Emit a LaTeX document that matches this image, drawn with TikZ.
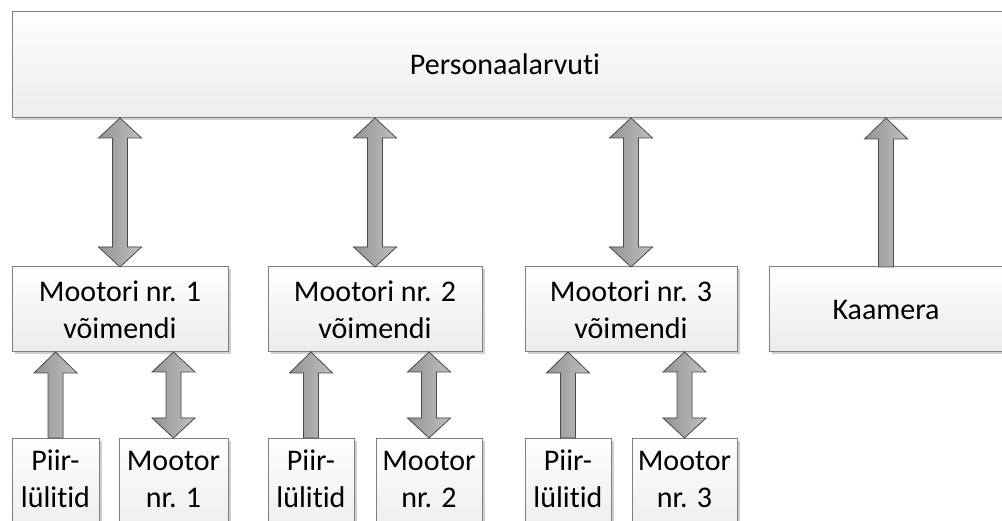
\documentclass[tikz,border=0pt]{standalone}
\usepackage{fontspec}
\setmainfont{Carlito}[RawFeature={-liga}]
\usetikzlibrary{calc,shadows}
\definecolor{boxborder}{HTML}{7F7F7F}
\definecolor{boxtop}{HTML}{FEFEFE}
\definecolor{boxbot}{HTML}{ECECEC}
\definecolor{boxshadow}{HTML}{CFCFCF}
\definecolor{arrL}{HTML}{939393}
\definecolor{arrR}{HTML}{C0C0C0}
\definecolor{arrline}{HTML}{4A4A4A}
\definecolor{arrsh}{HTML}{808080}
\newcommand\DArrowPath[3]{% style, top tip, bottom tip
  \path[#1] let \p1=(#2), \p2=(#3) in
    (\x1,\y1) -- (\x1+21.5pt,\y1-20pt) -- (\x1+7.5pt,\y1-20pt) -- (\x1+7.5pt,\y2+20pt)
    -- (\x1+21.5pt,\y2+20pt) -- (\x1,\y2) -- (\x1-21.5pt,\y2+20pt) -- (\x1-7.5pt,\y2+20pt)
    -- (\x1-7.5pt,\y1-20pt) -- (\x1-21.5pt,\y1-20pt) -- cycle;}
\newcommand\UArrowPath[3]{% style, top tip, shaft bottom
  \path[#1] let \p1=(#2), \p2=(#3) in
    (\x1,\y1) -- (\x1+21.5pt,\y1-21pt) -- (\x1+7.5pt,\y1-21pt) -- (\x1+7.5pt,\y2)
    -- (\x1-7.5pt,\y2) -- (\x1-7.5pt,\y1-21pt) -- (\x1-21.5pt,\y1-21pt) -- cycle;}
\newcommand\DArrow[2]{\DArrowPath{arrshadow}{#1}{#2}\DArrowPath{arrbody}{#1}{#2}}
\newcommand\UArrow[2]{\UArrowPath{arrshadow}{#1}{#2}\UArrowPath{arrbody}{#1}{#2}}
\tikzset{
  box/.style={draw=boxborder, line width=1pt, top color=boxtop, bottom color=boxbot,
    inner sep=0pt, outer sep=0pt, anchor=north west,
    general shadow={fill=boxshadow, shadow xshift=2.5pt, shadow yshift=-2.5pt}},
  txt/.style={align=center, inner sep=0pt, font=\fontsize{30}{37}\selectfont},
  arrbody/.style={left color=arrL, right color=arrR, draw=arrline, line width=0.8pt, line join=miter},
  arrshadow/.style={fill=arrsh, draw=none, xshift=2.5pt, yshift=-2.5pt},
}
\begin{document}
\begin{tikzpicture}[x=1pt,y=-1pt]
\useasboundingbox (0,0) rectangle (1002,521);
\clip (0,0) rectangle (1002,521);
\fill[white] (0,0) rectangle (1002,521);
% top box
\node[box, minimum width=1000pt, minimum height=106pt] (PC) at (12,12) {};
\node[txt] (PCt) at (505,64) {Personaalarvuti};
% amplifier boxes
\node[box, minimum width=216pt, minimum height=85pt, txt] (M1) at (12,267) {Mootori nr. 1\\võimendi};
\node[box, minimum width=214pt, minimum height=85pt, txt] (M2) at (268,267) {Mootori nr. 2\\võimendi};
\node[box, minimum width=212pt, minimum height=85pt, txt] (M3) at (525,267) {Mootori nr. 3\\võimendi};
\node[box, minimum width=234pt, minimum height=85pt, txt] (K) at (769,267) {Kaamera};
% bottom boxes
\node[box, minimum width=87pt, minimum height=100pt] (P1) at (12,438) {};
\node[box, minimum width=109pt, minimum height=100pt] (Mo1) at (119,438) {};
\node[box, minimum width=86pt, minimum height=100pt] (P2) at (268,438) {};
\node[box, minimum width=106pt, minimum height=100pt] (Mo2) at (376,438) {};
\node[box, minimum width=86pt, minimum height=100pt] (P3) at (525,438) {};
\node[box, minimum width=105pt, minimum height=100pt] (Mo3) at (632,438) {};
\node[txt] (P1t) at (55.5,479) {Piir-\\lülitid};
\node[txt] (Mo1t) at (173.5,479) {Mootor\\nr. 1};
\node[txt] (P2t) at (311,479) {Piir-\\lülitid};
\node[txt] (Mo2t) at (429,479) {Mootor\\nr. 2};
\node[txt] (P3t) at (568,479) {Piir-\\lülitid};
\node[txt] (Mo3t) at (684.5,479) {Mootor\\nr. 3};
% arrows PC <-> amplifiers
\DArrow{M1.north |- PC.south}{M1.north}
\DArrow{M2.north |- PC.south}{M2.north}
\DArrow{M3.north |- PC.south}{M3.north}
\UArrow{K.north |- PC.south}{K.north}
% lower arrows
\UArrow{P1.north |- M1.south}{P1.north}
\DArrow{Mo1.north |- M1.south}{Mo1.north}
\UArrow{P2.north |- M2.south}{P2.north}
\DArrow{Mo2.north |- M2.south}{Mo2.north}
\UArrow{P3.north |- M3.south}{P3.north}
\DArrow{Mo3.north |- M3.south}{Mo3.north}
\end{tikzpicture}
\end{document}
